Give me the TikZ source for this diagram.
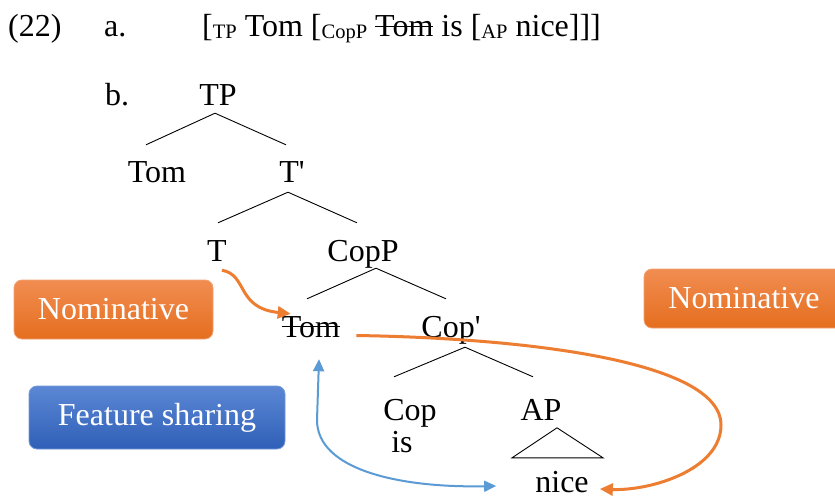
\documentclass[tikz,border=0pt]{standalone}
\usepackage{fontspec}
\setmainfont{Liberation Serif}
\newfontfamily\plainserif{Liberation Serif}
\usetikzlibrary{arrows.meta}
\definecolor{orLine}{HTML}{ED7D31}
\definecolor{blLine}{HTML}{5B9BD5}
\definecolor{orTop}{HTML}{F18D52}
\definecolor{orBot}{HTML}{E56E1E}
\definecolor{orEdge}{HTML}{F3A172}
\definecolor{blTop}{HTML}{5B87D4}
\definecolor{blBot}{HTML}{2F5FB7}
\definecolor{blEdge}{HTML}{7399DA}
\newcommand\strk[1]{\leavevmode\setbox0\hbox{#1}\rlap{\rule[0.3em]{\wd0}{0.05em}}\box0{}}
\newcommand\lowsub[1]{\raisebox{-0.06em}{\fontsize{20.5}{21}\selectfont #1}}
\newcommand\prm{{\plainserif '}}
\tikzset{
  big/.style={font=\fontsize{32}{38}\selectfont, inner sep=0pt},
  lbl/.style={big, text height=22pt, text depth=7pt, anchor=base},
  branch/.style={line width=0.9pt, black},
  casebox/.style={big, rounded corners=8pt, line width=0.8pt, text=white,
    minimum width=199pt, minimum height=59pt},
  obox/.style={casebox, top color=orTop, bottom color=orBot, draw=orEdge},
  bbox/.style={casebox, top color=blTop, bottom color=blBot, draw=blEdge},
  oarrow/.style={draw=orLine, line width=3pt, -{Triangle[length=13pt,width=12pt]}},
  barrow/.style={draw=blLine, line width=2pt, {Triangle[length=12pt,width=11pt]}-{Triangle[length=12pt,width=11pt]}}
}
\begin{document}
\begin{tikzpicture}[x=1pt,y=-1pt]
\clip (0,0) rectangle (835,500);
\fill[white] (0,0) rectangle (835,500);
% line a
\node[big, anchor=base west] (num) at (8,37) {(22)};
\node[big, anchor=base west] (la) at (104,37) {a.};
\node[big, anchor=base west] (brk) at (202,37) {[\lowsub{TP} Tom [\lowsub{CopP} \strk{Tom} is [\lowsub{AP} nice]]]};
\node[big, anchor=base west] (lb) at (105,106) {b.};
% tree
\node[lbl] (TP) at (218,106) {TP};
\node[lbl] (Tom) at (157,182) {Tom};
\node[lbl] (Tbar) at (292,182) {T\prm};
\node[lbl] (T) at (217,261) {T};
\node[lbl] (CopP) at (363,261) {CopP};
\node[lbl] (trTom) at (311,337) {\strk{Tom}};
\node[lbl] (Copbar) at (451,337) {Cop\prm};
\node[lbl] (Cop) at (410,420) {Cop};
\node[lbl] (AP) at (541,420) {AP};
\node[lbl] (is) at (402,452) {is};
\node[lbl, text depth=3pt] (nice) at (562,492.5) {nice};
\draw[branch] ([xshift=-3pt]TP.south) -- ([xshift=-11pt,yshift=15pt]Tom.north);
\draw[branch] ([xshift=-3pt]TP.south) -- ([xshift=-6pt,yshift=15pt]Tbar.north);
\draw[branch] ([xshift=-4pt,yshift=-3pt]Tbar.south) -- ([xshift=1pt,yshift=16pt]T.north);
\draw[branch] ([xshift=-4pt,yshift=-3pt]Tbar.south) -- ([xshift=-6pt,yshift=16pt]CopP.north);
\draw[branch] ([xshift=13pt]CopP.south) -- ([xshift=-4pt,yshift=16pt]trTom.north);
\draw[branch] ([xshift=13pt]CopP.south) -- ([xshift=-5pt,yshift=16pt]Copbar.north);
\draw[branch] ([xshift=14pt,yshift=-3pt]Copbar.south) -- ([xshift=-16pt,yshift=21pt]Cop.north);
\draw[branch] ([xshift=14pt,yshift=-3pt]Copbar.south) -- ([xshift=-8pt,yshift=21pt]AP.north);
\draw[branch] ([xshift=-50pt,yshift=12.5pt]nice.north) -- ([xshift=-5pt,yshift=42.5pt]nice.north) -- ([xshift=41pt,yshift=12.5pt]nice.north) -- cycle;
% boxes
\node[obox] (nomL) at (113.5,309.5) {Nominative};
\node[obox, minimum width=200pt] (nomR) at (744,298.5) {Nominative};
\node[bbox, minimum width=256pt, minimum height=63pt] (feat) at (157,417.5) {Feature sharing};
% arrows
\draw[oarrow] ([xshift=5pt,yshift=-2pt]T.south) .. controls (248,275) and (236,308) .. ([xshift=9pt,yshift=1pt]trTom.north west);
\draw[oarrow] ([xshift=16pt,yshift=-6pt]trTom.east) .. controls (520,338) and (721,360) .. (721,425) .. controls (721,470) and (650,491) .. ([xshift=11pt,yshift=-6pt]nice.east);
\draw[barrow] ([xshift=8pt,yshift=-15pt]trTom.south) -- (317,420) .. controls (317,470) and (400,488) .. ([xshift=-39pt,yshift=-3pt]nice.west);
\end{tikzpicture}
\end{document}
